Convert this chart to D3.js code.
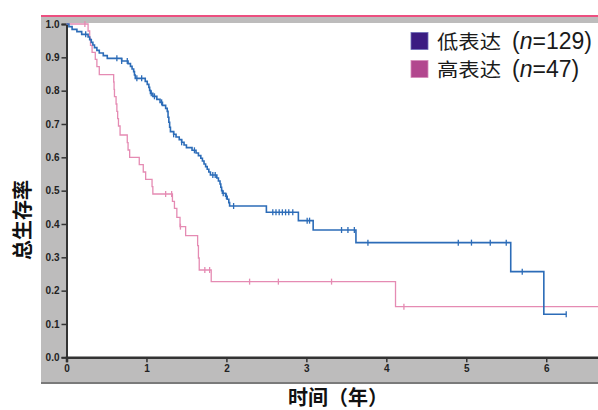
<!DOCTYPE html>
<html><head><meta charset="utf-8">
<script src="https://cdn.jsdelivr.net/npm/d3@7"></script>
<style>html,body{margin:0;padding:0;background:#fff;}svg{display:block;}</style>
</head><body>
<svg id="chart" width="598" height="410"></svg>
<script>
// ---- data ----
const xTicks = [0, 1, 2, 3, 4, 5, 6];
const yTicks = [0, 0.1, 0.2, 0.3, 0.4, 0.5, 0.6, 0.7, 0.8, 0.9, 1.0];
const yTickLabels = ["0.0","0.1","0.2","0.3","0.4","0.5","0.6","0.7","0.8","0.9","1.0"];
const seriesNames = ["低表达", "高表达"];
const seriesN = [129, 47];

const lowTimes = [0,0.03,0.07,0.13,0.19,0.27,0.29,0.31,0.33,0.35,0.38,0.41,0.46,0.51,0.69,0.77,0.80,0.82,0.84,0.85,0.86,0.985,1.01,1.03,1.04,1.05,1.08,1.13,1.17,1.20,1.24,1.26,1.27,1.28,1.29,1.30,1.34,1.37,1.41,1.44,1.47,1.50,1.57,1.62,1.65,1.68,1.70,1.72,1.74,1.76,1.78,1.80,1.88,1.90,1.92,1.93,1.94,1.95,1.99,2.01,2.03,2.04,2.50,2.90,3.085,3.62,5.556,5.97,6.25];
const lowSurv = [1.0,0.992,0.984,0.977,0.969,0.961,0.953,0.945,0.937,0.929,0.921,0.913,0.905,0.897,0.889,0.881,0.873,0.865,0.857,0.847,0.837,0.828,0.819,0.810,0.801,0.792,0.783,0.774,0.765,0.756,0.747,0.738,0.72,0.705,0.69,0.677,0.669,0.661,0.653,0.645,0.637,0.629,0.621,0.613,0.605,0.597,0.589,0.580,0.572,0.564,0.556,0.547,0.538,0.529,0.52,0.51,0.50,0.492,0.483,0.474,0.464,0.454,0.435,0.41,0.382,0.344,0.257,0.129,0.129];
const lowCensor = [0.24,0.63,0.69,0.76,0.88,0.94,1.06,1.10,1.19,1.34,1.44,1.60,1.83,1.86,1.96,2.0,2.09,2.58,2.62,2.66,2.70,2.74,2.78,2.83,3.01,3.04,3.44,3.52,3.60,3.77,4.9,5.065,5.30,5.50,5.70,6.25];

const highTimes = [0,0.27,0.29,0.30,0.32,0.36,0.38,0.41,0.59,0.595,0.60,0.62,0.63,0.64,0.65,0.67,0.76,0.77,0.79,0.91,0.96,0.99,1.07,1.08,1.325,1.35,1.38,1.42,1.49,1.64,1.65,1.66,1.81,4.115,6.66];
const highSurv = [1.0,0.979,0.957,0.936,0.915,0.894,0.872,0.848,0.826,0.804,0.782,0.760,0.738,0.716,0.694,0.667,0.644,0.622,0.600,0.578,0.556,0.534,0.512,0.490,0.468,0.447,0.420,0.392,0.365,0.335,0.298,0.262,0.227,0.152,0.152];
const highCensor = [0.23,1.24,1.315,1.425,1.73,1.79,2.29,2.65,3.315,4.22];

// ---- drawing ----
const svg = d3.select("#chart");
const W = 598, H = 410;
const x = d3.scaleLinear().domain([0, 6.66]).range([66.5, 599]);
const y = d3.scaleLinear().domain([0, 1]).range([357.3, 24]);

const lowColor = "#2c6cb8", highColor = "#e58bb3";
const numFont = "'Liberation Sans', Arial, sans-serif";
const cjkFont = "'Noto Sans CJK SC', 'Liberation Sans', sans-serif";

// frame: gray band
svg.append("rect").attr("x", 41).attr("y", 17).attr("width", W - 41).attr("height", 366).attr("fill", "#bdbcbc");
svg.append("rect").attr("x", 66.5).attr("y", 23).attr("width", W - 66.5).attr("height", 334.3).attr("fill", "#ffffff");
// top pink line
svg.append("line").attr("x1", 41).attr("x2", W).attr("y1", 16).attr("y2", 16)
  .attr("stroke", "#ec4f80").attr("stroke-width", 2);
// bottom dark edge
svg.append("line").attr("x1", 41).attr("x2", W).attr("y1", 383).attr("y2", 383)
  .attr("stroke", "#7a7a7a").attr("stroke-width", 2);

// axes
const yAxis = d3.axisLeft(y).tickValues(yTicks).tickSize(5).tickPadding(2)
  .tickFormat((d, i) => yTickLabels[i]);
const gy = svg.append("g").attr("transform", "translate(66.5,0)").call(yAxis);
gy.select(".domain").attr("stroke", "#333").attr("stroke-width", 2);
gy.selectAll(".tick line").attr("stroke", "#333").attr("stroke-width", 1.5);
gy.selectAll(".tick text").attr("font-family", numFont).attr("font-size", 10)
  .attr("font-weight", "bold").attr("fill", "#222");

const xAxis = d3.axisBottom(x).tickValues(xTicks).tickSize(5).tickPadding(3).tickFormat(d3.format("d"));
const gx = svg.append("g").attr("transform", "translate(0,357.3)").call(xAxis);
gx.select(".domain").attr("stroke", "#333").attr("stroke-width", 2.5);
gx.selectAll(".tick line").attr("stroke", "#333").attr("stroke-width", 1.5);
gx.selectAll(".tick text").attr("font-family", numFont).attr("font-size", 10)
  .attr("font-weight", "bold").attr("fill", "#222");

// curves
const line = d3.line().x(d => x(d[0])).y(d => y(d[1])).curve(d3.curveStepAfter);
function survAt(times, surv, t) {
  const i = d3.bisectRight(times, t) - 1;
  return surv[Math.max(0, i)];
}
function drawSeries(times, surv, censor, color, width) {
  const pts = times.map((t, i) => [t, surv[i]]);
  svg.append("path").datum(pts).attr("d", line).attr("fill", "none")
    .attr("stroke", color).attr("stroke-width", width);
  svg.append("g").selectAll("line").data(censor).join("line")
    .attr("x1", d => x(d)).attr("x2", d => x(d))
    .attr("y1", d => y(survAt(times, surv, d)) - 3)
    .attr("y2", d => y(survAt(times, surv, d)) + 3)
    .attr("stroke", color).attr("stroke-width", 1.3);
}
drawSeries(highTimes, highSurv, highCensor, highColor, 1.3);
drawSeries(lowTimes, lowSurv, lowCensor, lowColor, 1.6);

// legend
const legColors = ["#3b1c82", "#b2478e"];
const legY = [48.5, 76.5];
seriesNames.forEach((name, i) => {
  svg.append("rect").attr("x", 411).attr("y", legY[i] - 16).attr("width", 17).attr("height", 17)
    .attr("fill", legColors[i]).attr("stroke", i === 0 ? "#6d6fb8" : "#d58bb8").attr("stroke-width", 0.8);
  svg.append("text").attr("x", 437).attr("y", legY[i]).attr("fill", "#1a1a1a")
    .attr("font-family", cjkFont).attr("font-size", 19)
    .attr("textLength", 64).attr("lengthAdjust", "spacingAndGlyphs").text(name);
  const t = svg.append("text").attr("x", 512).attr("y", legY[i]).attr("fill", "#1a1a1a")
    .attr("font-family", numFont).attr("font-size", 23);
  t.append("tspan").text("(");
  t.append("tspan").attr("font-style", "italic").text("n");
  t.append("tspan").text("=" + seriesN[i] + ")");
});

// axis titles
svg.append("text").attr("transform", "translate(30,220) rotate(-90)").attr("text-anchor", "middle")
  .attr("font-family", cjkFont).attr("font-size", 20).attr("font-weight", "bold").attr("fill", "#111")
  .text("总生存率");
svg.append("text").attr("x", 338).attr("y", 405).attr("text-anchor", "middle")
  .attr("font-family", cjkFont).attr("font-size", 20).attr("font-weight", "bold").attr("fill", "#111")
  .text("时间（年）");
</script>
</body></html>
